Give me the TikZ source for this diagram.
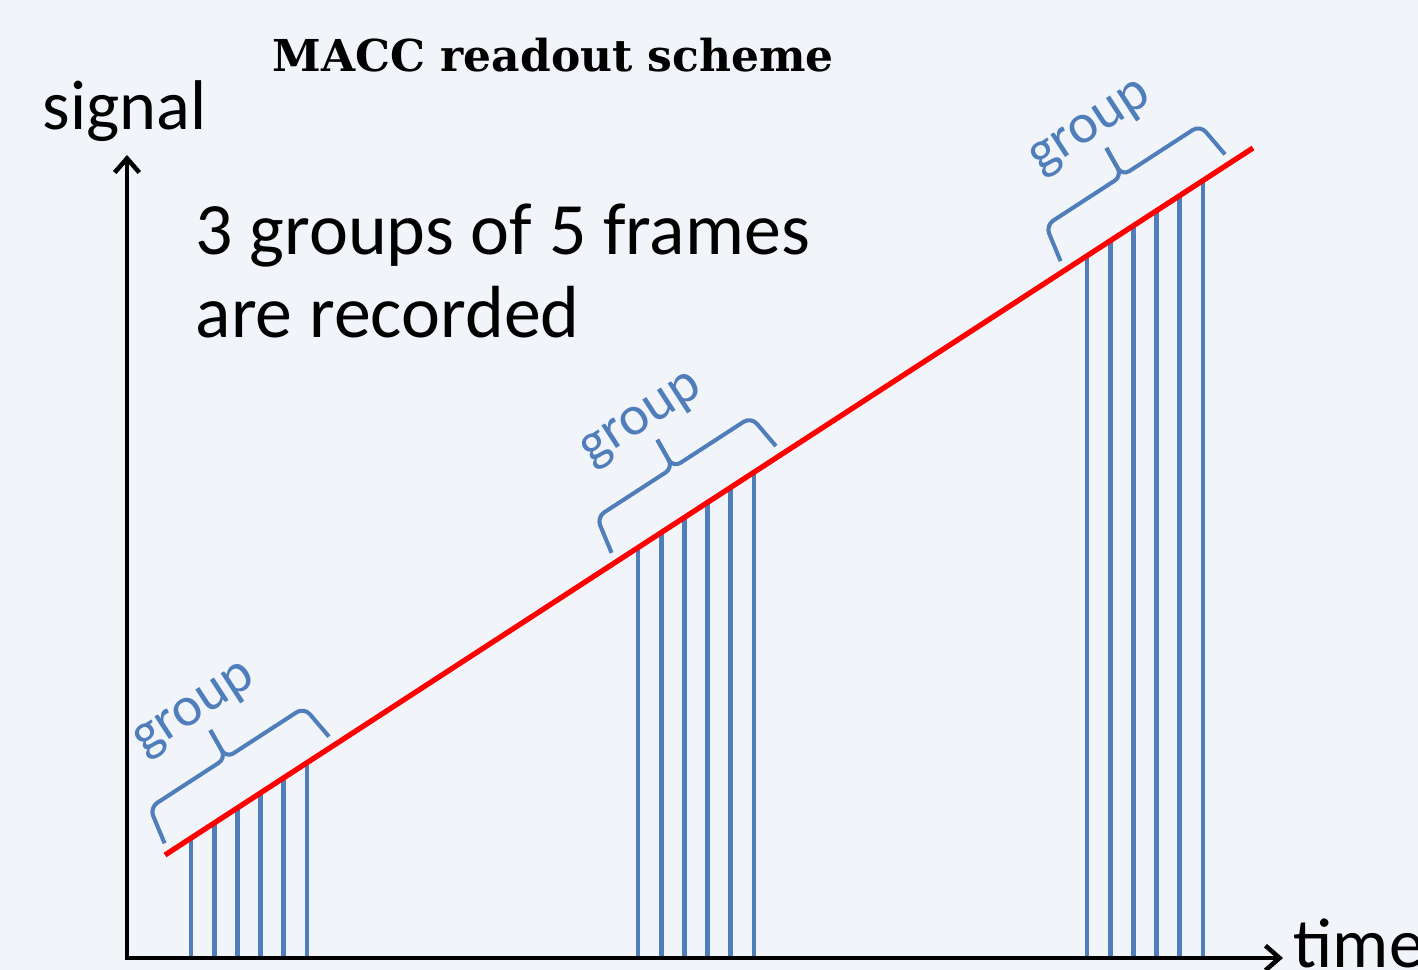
\documentclass[tikz,border=0pt]{standalone}
\usepackage{fontspec}
\newfontfamily\calibri{Carlito}
\newfontfamily\titlefont{DejaVu Serif}
\definecolor{bgcol}{HTML}{F1F4F8}
\definecolor{frameblue}{HTML}{4F7EBB}
\definecolor{rampred}{HTML}{FF0000}
\usetikzlibrary{arrows.meta}

\begin{document}
\begin{tikzpicture}[x=0.01cm, y=0.01cm,
    frameline/.style={draw=frameblue, line width=1.4pt},
    bracket/.style={draw=frameblue, line width=1.15pt, rounded corners=2.5pt},
    axisline/.style={line width=1.3pt, <->, >={Straight Barb[length=4pt,width=7pt]}},
    lbl/.style={font=\calibri\fontsize{20}{24}\selectfont, anchor=base west, inner sep=0pt}]
  \fill[bgcol] (0,0) rectangle (1418,970);
  \useasboundingbox (0,0) rectangle (1418,970);

  \coordinate (origin) at (127,12);
  \coordinate (ytop) at (127,815);
  \coordinate (xend) at (1283,12);
  \coordinate (rampstart) at (165,115);
  \coordinate (rampend) at (1253,822);

  \foreach \xo [count=\i] in {165,612,1061} {
    \foreach \k in {0,...,5}
      \draw[frameline] ({\xo+26+23.2*\k},12) -- ({\xo+26+23.2*\k},{115+0.6498*(\xo+26+23.2*\k-165)});
  }

  \draw[rampred, line width=1.5pt] (rampstart) -- (rampend);

  \foreach \xo [count=\i] in {165,612,1061} {
    \begin{scope}[shift={(\xo,{115+0.6498*(\xo-165)})}, rotate=33]
      \draw[bracket] (6,10) -- (13,48) -- (104,48) -- (106,80);
      \draw[bracket] (106,80) -- (104,48) -- (197,48) -- (202,10);
      \node[font=\calibri\fontsize{16}{19}\selectfont, text=frameblue, rotate=33,
            anchor=south, inner sep=0pt] (grp\i) at (104,84) {group};
    \end{scope}
  }

  \draw[axisline] (ytop) -- (origin) -- (xend);

  \node[font=\titlefont\bfseries\fontsize{12.5}{15}\selectfont, anchor=base west, inner sep=0pt]
    (title) at (272,898) {MACC readout scheme};
  \node[lbl] (ylabel) at (42,840) {signal};
  \node[lbl] (xlabel) at (1293,2) {time};
  \node[lbl, font=\calibri\fontsize{21}{24}\selectfont] (note1) at (195,715) {3 groups of 5 frames};
  \node[lbl, font=\calibri\fontsize{21}{24}\selectfont] (note2) at (195,632) {are recorded};
\end{tikzpicture}
\end{document}
